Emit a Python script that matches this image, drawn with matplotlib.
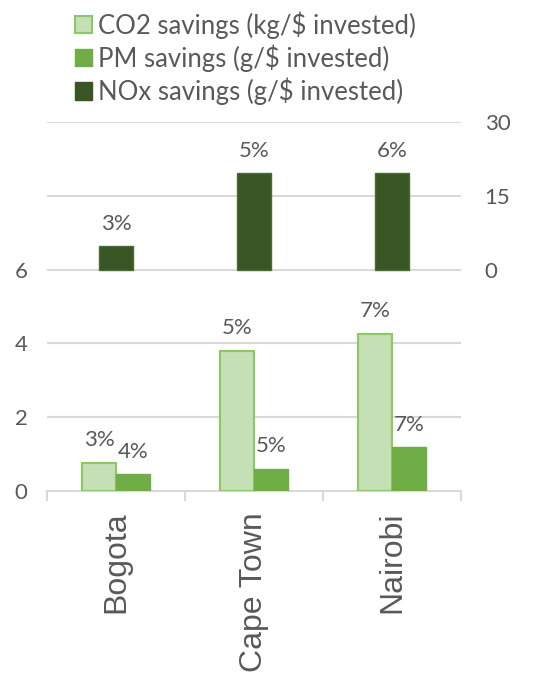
import matplotlib.pyplot as plt
import numpy as np
from matplotlib.patches import Patch

# data
cities = ["Bogota", "Cape Town", "Nairobi"]
co2 = [0.76, 3.80, 4.26]          # kg/$ invested (left axis)
pm = [0.46, 0.60, 1.19]           # g/$ invested (left axis)
nox = [4.7, 19.6, 19.6]           # g/$ invested (right axis)
co2_pct = ["3%", "5%", "7%"]
pm_pct = ["4%", "5%", "7%"]
nox_pct = ["3%", "5%", "6%"]

left_ticks = [0, 2, 4, 6]
right_ticks = [0, 15, 30]

grey = "#595959"
grid = "#d9d9d9"
c_co2, c_co2_edge = "#c5e0b4", "#8cc866"
c_pm = "#70ad47"
c_nox = "#375623"

fig = plt.figure(figsize=(5.43, 6.77), dpi=100)
ax = fig.add_axes([47 / 543, 1 - 491 / 677, 414 / 543, 369 / 677])
ax2 = ax.twinx()

x = np.arange(len(cities))
w = 0.245

b1 = ax.bar(x - w / 2, co2, w, color=c_co2, edgecolor=c_co2_edge, linewidth=1.5, zorder=3)
b2 = ax.bar(x + w / 2, pm, w, color=c_pm, edgecolor=c_pm, linewidth=1, zorder=3)
b3 = ax2.bar(x, nox, w, color=c_nox, edgecolor="#4a6b34", linewidth=1, zorder=3)

for bars, labs, a in [(b1, co2_pct, ax), (b2, pm_pct, ax), (b3, nox_pct, ax2)]:
    for b, t in zip(bars, labs):
        a.annotate(t, (b.get_x() + b.get_width() / 2, b.get_height()),
                   xytext=(0, 9), textcoords="offset points",
                   ha="center", va="bottom", fontsize=16, color=grey,
                   family="Lato")

ax.set_xlim(-0.5, 2.5)
ax.set_ylim(0, 10)
ax2.set_ylim(-45, 30)

ax.set_yticks(range(0, 11, 2))
ax.set_yticklabels([str(v) if v in left_ticks else "" for v in range(0, 11, 2)])
ax2.set_yticks(right_ticks)
ax.yaxis.grid(True, color=grid, linewidth=1.5, zorder=0)
ax.set_axisbelow(True)

for a in (ax, ax2):
    for s in a.spines.values():
        s.set_visible(False)
ax.spines["bottom"].set_visible(True)
ax.spines["bottom"].set_color(grid)
ax.spines["bottom"].set_linewidth(1.5)

ax.tick_params(axis="y", length=0, labelsize=16, labelcolor=grey, pad=14)
ax2.tick_params(axis="y", length=0, labelsize=16, labelcolor=grey, pad=17)
for lab in ax.get_yticklabels() + ax2.get_yticklabels():
    lab.set_family("Lato")

ax.set_xticks(x)
ax.set_xticklabels(cities, rotation=90, fontsize=23, color=grey, family="Liberation Sans")
ax.set_xticks(np.arange(-0.5, 3, 1), minor=True)
ax.tick_params(axis="x", which="major", length=0, pad=15)
ax.tick_params(axis="x", which="minor", length=7, width=1.5, color=grid)

handles = [Patch(facecolor=c_co2, edgecolor=c_co2_edge, linewidth=1.5),
           Patch(facecolor=c_pm, edgecolor=c_pm),
           Patch(facecolor=c_nox, edgecolor=c_nox)]
labels = ["CO2 savings (kg/$ invested)", "PM savings (g/$ invested)",
          "NOx savings (g/$ invested)"]
leg = fig.legend(handles, labels, loc="upper left", bbox_to_anchor=(57 / 543, 1.01),
                 frameon=False, prop={"family": "Lato", "size": 18.5},
                 handlelength=0.65, handleheight=0.65, handletextpad=0.25,
                 labelspacing=0.22, borderpad=0.2)
for t in leg.get_texts():
    t.set_color(grey)

fig.savefig("out.png", dpi=100)
